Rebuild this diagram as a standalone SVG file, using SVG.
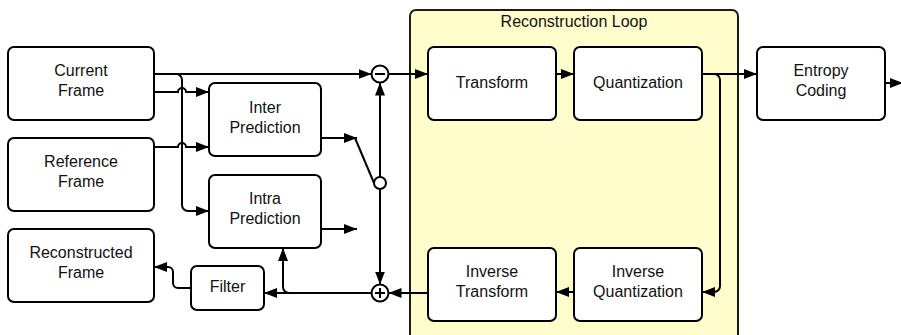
<svg xmlns="http://www.w3.org/2000/svg" width="901" height="335" viewBox="0 0 901 335">
  <style>
    .box { fill: #ffffff; stroke: #000000; stroke-width: 2; }
    .loop { fill: #fffdcc; stroke: #1a1a1a; stroke-width: 2; }
    .lbl { font-family: "Liberation Sans", Arial, sans-serif; font-size: 16px; fill: #111111; text-anchor: middle; }
    .wire { fill: none; stroke: #000000; stroke-width: 2; }
    .arr { marker-end: url(#ah); }
    .node { fill: #ffffff; stroke: #000000; stroke-width: 2; }
  </style>
  <defs>
    <marker id="ah" markerWidth="14" markerHeight="10" refX="13" refY="5" orient="auto" markerUnits="userSpaceOnUse">
      <path d="M0,0 L13,5 L0,10 z" fill="#000000"/>
    </marker>
  </defs>

  <!-- reconstruction loop container -->
  <g id="reconstruction-loop">
    <rect class="loop" x="410" y="10" width="328" height="340" rx="6"/>
    <text class="lbl" x="574" y="27">Reconstruction Loop</text>
  </g>

  <g id="current-frame">
    <rect class="box" x="8" y="47" width="146" height="73" rx="6"/>
    <text class="lbl" x="81" y="76">Current</text>
    <text class="lbl" x="81" y="96">Frame</text>
  </g>
  <g id="reference-frame">
    <rect class="box" x="8" y="138" width="146" height="73" rx="6"/>
    <text class="lbl" x="81" y="167">Reference</text>
    <text class="lbl" x="81" y="187">Frame</text>
  </g>
  <g id="reconstructed-frame">
    <rect class="box" x="8" y="229" width="146" height="73" rx="6"/>
    <text class="lbl" x="81" y="258">Reconstructed</text>
    <text class="lbl" x="81" y="278">Frame</text>
  </g>
  <g id="inter-prediction">
    <rect class="box" x="209" y="83" width="112" height="73" rx="6"/>
    <text class="lbl" x="265" y="113">Inter</text>
    <text class="lbl" x="265" y="133">Prediction</text>
  </g>
  <g id="intra-prediction">
    <rect class="box" x="209" y="175" width="112" height="73" rx="6"/>
    <text class="lbl" x="265" y="204">Intra</text>
    <text class="lbl" x="265" y="224">Prediction</text>
  </g>
  <g id="filter">
    <rect class="box" x="191" y="266" width="73" height="44" rx="6"/>
    <text class="lbl" x="227.5" y="292">Filter</text>
  </g>
  <g id="transform">
    <rect class="box" x="428" y="47" width="128" height="73" rx="6"/>
    <text class="lbl" x="492" y="88">Transform</text>
  </g>
  <g id="quantization">
    <rect class="box" x="574" y="47" width="128" height="73" rx="6"/>
    <text class="lbl" x="638" y="88">Quantization</text>
  </g>
  <g id="entropy-coding">
    <rect class="box" x="757" y="47" width="128" height="73" rx="6"/>
    <text class="lbl" x="821" y="76">Entropy</text>
    <text class="lbl" x="821" y="96">Coding</text>
  </g>
  <g id="inverse-transform">
    <rect class="box" x="428" y="248" width="128" height="73" rx="6"/>
    <text class="lbl" x="492" y="277">Inverse</text>
    <text class="lbl" x="492" y="297">Transform</text>
  </g>
  <g id="inverse-quantization">
    <rect class="box" x="574" y="248" width="128" height="73" rx="6"/>
    <text class="lbl" x="638" y="277">Inverse</text>
    <text class="lbl" x="638" y="297">Quantization</text>
  </g>

  <!-- connectors -->
  <g id="connectors">
    <path class="wire arr" d="M154,74 H371.5"/>
    <path class="wire arr" d="M176,74 A6,6 0 0 1 182,80 V205 A6,6 0 0 0 188,211 H209"/>
    <path class="wire arr" d="M154,92 H178 A4,4 0 0 1 186,92 H209"/>
    <path class="wire arr" d="M154,147 H178 A4,4 0 0 1 186,147 H209"/>
    <path class="wire arr" d="M321,138 H357"/>
    <path class="wire" d="M355,138 L374,183"/>
    <path class="wire arr" d="M321,229 H357"/>
    <path class="wire arr" d="M380,177 V82.5"/>
    <path class="wire arr" d="M380,189 V284.5"/>
    <path class="wire arr" d="M388.5,74 H428"/>
    <path class="wire arr" d="M556,74 H574"/>
    <path class="wire arr" d="M702,74 H757"/>
    <path class="wire arr" d="M714,74 A6,6 0 0 1 720,80 V286 A6,6 0 0 1 714,292 H702"/>
    <path class="wire arr" d="M885,83 H903"/>
    <path class="wire arr" d="M574,292 H556"/>
    <path class="wire arr" d="M428,293 H388.5"/>
    <path class="wire arr" d="M371.5,293 H264"/>
    <path class="wire arr" d="M295,293 H289 A6,6 0 0 1 283,287 V248"/>
    <path class="wire arr" d="M191,288 H178 A5,5 0 0 1 173,283 V272 A5,5 0 0 0 168,267 H154"/>
  </g>

  <!-- subtract, switch and add junctions -->
  <g id="subtract">
    <circle class="node" cx="380" cy="74" r="8.5"/>
    <path class="wire" d="M375,74 H385"/>
  </g>
  <g id="switch">
    <circle class="node" cx="380" cy="183" r="6"/>
  </g>
  <g id="add">
    <circle class="node" cx="380" cy="293" r="8.5"/>
    <path class="wire" d="M375,293 H385 M380,288 V298"/>
  </g>
</svg>
